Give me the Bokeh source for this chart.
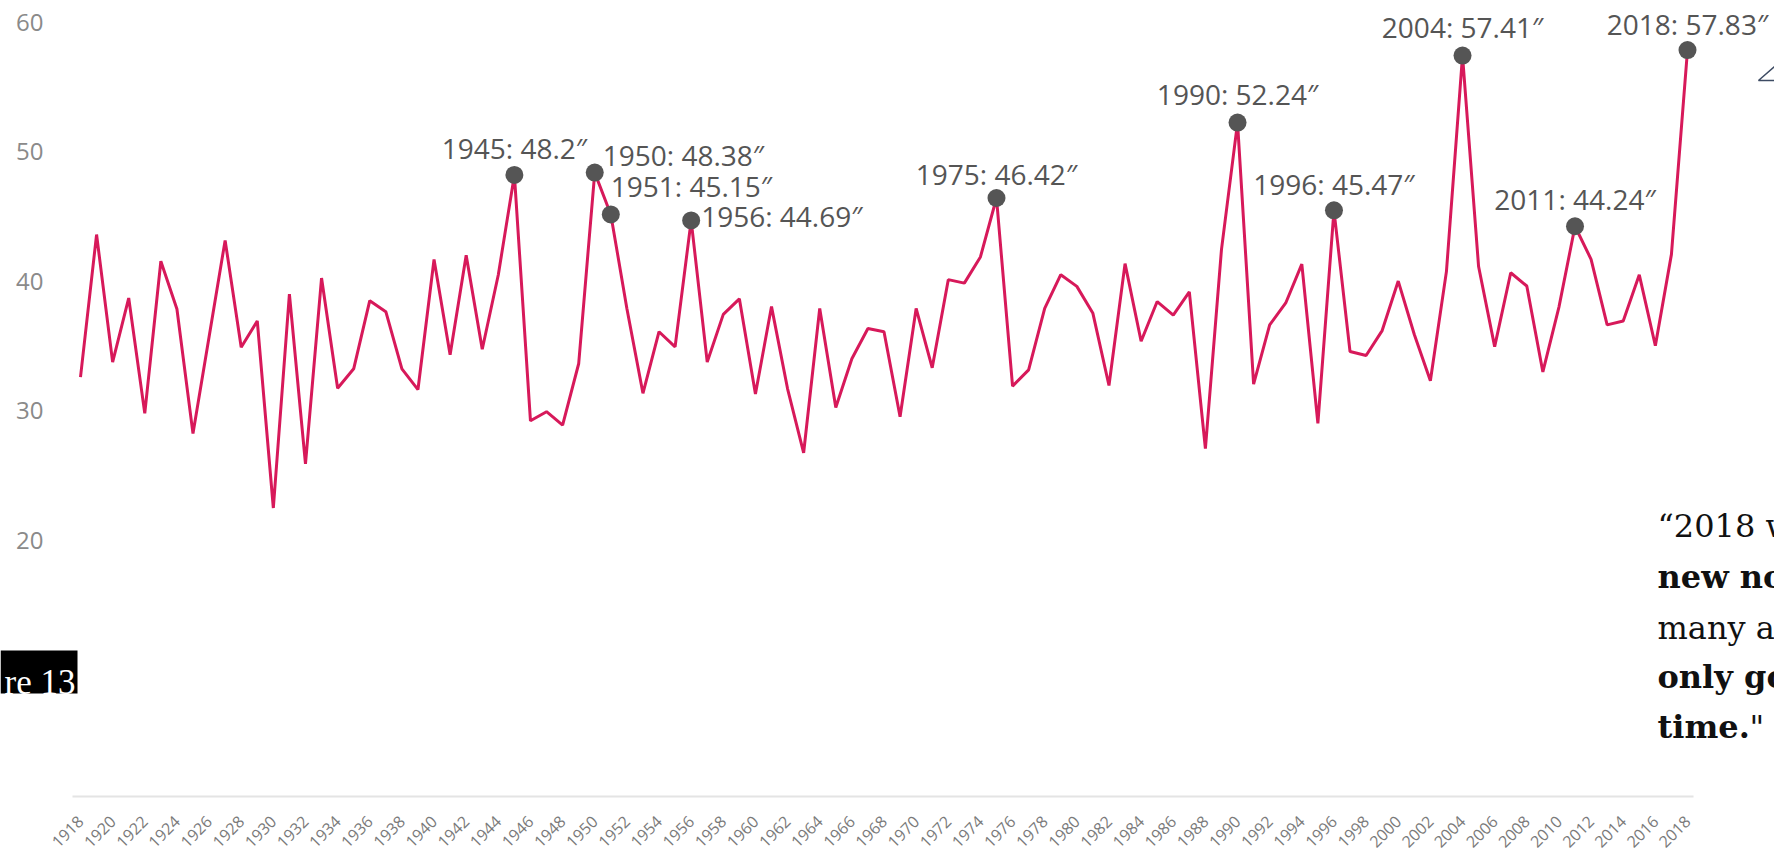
import math
from bokeh.plotting import figure
from bokeh.models import ColumnDataSource, FixedTicker, Range1d
from bokeh.core.properties import value
from bokeh.embed import file_html
from bokeh.resources import INLINE

# ---------------- data ----------------
years = list(range(1918, 2019))
rain = [
    32.6, 43.6, 33.76, 38.7, 29.8, 41.54, 37.86, 28.24, 35.7, 43.15,      # 1918-1927
    34.9, 36.93, 22.5, 39.0, 25.9, 40.24, 31.74, 33.24, 38.5, 37.65,      # 1928-1937
    33.24, 31.64, 41.67, 34.33, 42.0, 34.75, 40.5, 48.2, 29.23, 29.93,    # 1938-1947
    28.9, 33.63, 48.38, 45.15, 37.9, 31.35, 36.1, 34.93, 44.69, 33.76,    # 1948-1957
    37.44, 38.64, 31.3, 38.04, 31.7, 26.76, 37.9, 30.26, 34.02, 36.35,    # 1958-1967
    36.1, 29.54, 37.9, 33.32, 40.12, 39.85, 41.87, 46.42, 31.9, 33.16,    # 1968-1977
    37.9, 40.5, 39.6, 37.52, 31.95, 41.36, 35.37, 38.43, 37.38, 39.18,    # 1978-1987
    27.08, 42.44, 52.24, 32.06, 36.63, 38.32, 41.32, 29.03, 45.47, 34.57, # 1988-1997
    34.27, 36.19, 40.01, 35.89, 32.32, 40.76, 57.41, 41.13, 34.95, 40.65, # 1998-2007
    39.63, 33.0, 38.0, 44.24, 41.69, 36.63, 36.93, 40.49, 35.02, 42.07,   # 2008-2017
    57.83,                                                                # 2018
]
label_years = [1945, 1950, 1951, 1956, 1975, 1990, 1996, 2004, 2011, 2018]
label_values = [48.2, 48.38, 45.15, 44.69, 46.42, 52.24, 45.47, 57.41, 44.24, 57.83]
y_ticks = [20, 30, 40, 50, 60]
x_ticks = list(range(1918, 2019, 2))
quote_lines = ["\u201c2018 w", "new no", "many ar", "only go", "time."]
quote_styles = ["normal", "bold", "normal", "bold", "bold"]
quote_tail = '"'
figure_tag = "re 13"

# ---------------- layout (pixels) ----------------
W, H = 1774, 854
PXY = 16.07          # px per year
PXV = 12.96          # px per inch
X_FIRST = 80         # canvas x of 1918
Y_SIXTY = 21.5       # canvas y of 60
XS = years[0] - X_FIRST / PXY
YT = 60 + Y_SIXTY / PXV


def dx(px):
    return XS + px / PXY


def dy(py):
    return YT - py / PXV


p = figure(width=W, height=H, x_range=Range1d(dx(0), dx(W)), y_range=Range1d(dy(H), dy(0)),
           output_backend="svg", toolbar_location=None, min_border=0)
p.outline_line_color = None
p.background_fill_color = "white"
p.border_fill_color = "white"
p.xgrid.visible = False
p.ygrid.visible = False

xa = p.xaxis[0]
xa.fixed_location = dy(796)
xa.bounds = (dx(72), dx(1693))
xa.ticker = FixedTicker(ticks=x_ticks)
xa.major_label_orientation = math.pi / 4
xa.major_tick_line_color = None
xa.major_tick_out = 0
xa.major_tick_in = 0
xa.minor_tick_line_color = None
xa.axis_line_color = "#e4e4e4"
xa.axis_line_width = 2
xa.major_label_standoff = 22
xa.major_label_text_font = "Open Sans"
xa.major_label_text_font_size = "16px"
xa.major_label_text_color = "#7a7a7a"

ya = p.yaxis[0]
ya.fixed_location = dx(49)
ya.ticker = FixedTicker(ticks=y_ticks)
ya.axis_line_color = None
ya.major_tick_line_color = None
ya.major_tick_out = 0
ya.major_tick_in = 0
ya.minor_tick_line_color = None
ya.major_label_standoff = 6
ya.major_label_text_font = "Open Sans"
ya.major_label_text_font_size = "24px"
ya.major_label_text_color = "#8a8a8a"

p.line(years, rain, line_color="#d7195a", line_width=3)
p.scatter(label_years, label_values, size=18, fill_color="#555555", line_color=None)

# label placement (screen px; negative = up)
label_align = ["center", "left", "left", "left", "center", "center", "center", "center", "center", "center"]
label_dx = [0, 8, 0, 10, 0, 0, 0, 0, 0, 0]
label_dy = [-27, -18, -28, -4, -24, -29, -26, -29, -27, -26]

for align in ("center", "left"):
    idx = [i for i, a in enumerate(label_align) if a == align]
    src = ColumnDataSource(dict(
        x=[label_years[i] for i in idx],
        y=[label_values[i] for i in idx],
        text=[f"{label_years[i]}: {label_values[i]}\u2033" for i in idx],
        xo=[label_dx[i] for i in idx],
        yo=[label_dy[i] for i in idx],
    ))
    p.text(x="x", y="y", text="text", x_offset="xo", y_offset="yo", source=src,
           text_align=align, text_baseline="middle", text_font=value("Open Sans"),
           text_font_size="28px", text_color="#555555")

# quote on the right
baselines = [525, 576, 627, 676, 726]
for line, style, b in zip(quote_lines, quote_styles, baselines):
    p.text(x=[dx(1657)], y=[dy(b)], text=[line], text_align="left", text_baseline="alphabetic",
           text_font=value("DejaVu Serif"), text_font_size="32px", text_font_style=style,
           text_color="#111111")
p.text(x=[dx(1749)], y=[dy(726)], text=[quote_tail], text_align="left", text_baseline="alphabetic",
       text_font=value("DejaVu Serif"), text_font_size="32px", text_color="#111111")

# small pointer mark at the top right
p.line(x=[dx(1774), dx(1758), dx(1774)], y=[dy(66), dy(80), dy(80)], line_color="#3d4b63", line_width=1.5)

# figure tag (black box)
p.quad(left=[dx(0)], right=[dx(77)], top=[dy(650)], bottom=[dy(693)], fill_color="black", line_color=None)
p.text(x=[dx(75)], y=[dy(682)], text=[figure_tag], text_align="right", text_baseline="alphabetic",
       text_font=value("Liberation Serif"), text_font_size="35px", text_color="white")

open("out.html", "w").write(file_html(p, INLINE))
